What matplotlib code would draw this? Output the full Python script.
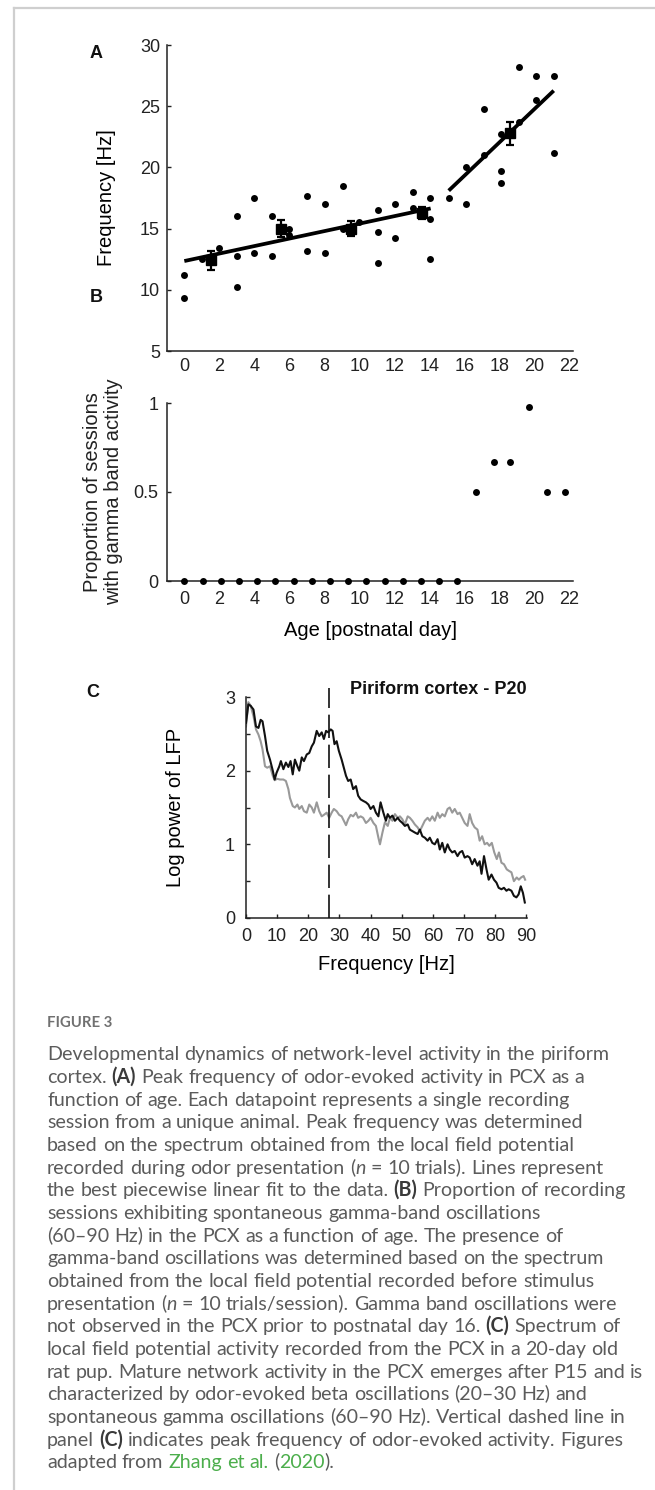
import re
import math
import matplotlib
matplotlib.use('Agg')
import matplotlib.pyplot as plt
from matplotlib.lines import Line2D
from matplotlib.font_manager import FontProperties

# ---------------- data ----------------
# Panel A: peak frequency vs age (individual sessions)
age_a = [0.0, 0.0, 1.0, 2.0, 3.0, 3.0, 3.0, 4.0, 4.0, 5.0, 5.0, 6.0, 6.0,
         7.0, 7.0, 8.05, 8.05, 9.05, 9.05, 10.0, 11.05, 11.05, 11.05, 12.05, 12.05,
         13.05, 13.05, 14.05, 14.05, 14.05, 15.1, 16.1, 16.1, 17.1, 17.1,
         18.1, 18.1, 18.1, 19.1, 19.1, 20.1, 20.1, 21.1, 21.1]
freq_a = [11.2, 9.3, 12.5, 13.4, 16.0, 12.75, 10.25, 17.5, 13.0, 16.0, 12.75, 15.0, 14.5,
          17.7, 13.2, 17.0, 13.0, 18.5, 15.0, 15.5, 16.5, 14.7, 12.2, 17.0, 14.2,
          18.0, 16.7, 17.5, 15.75, 12.5, 17.5, 20.0, 17.0, 24.75, 21.0,
          22.7, 19.7, 18.7, 28.2, 23.7, 27.5, 25.5, 27.5, 21.2]
# group means with error bars
mean_age = [1.52, 5.55, 9.54, 13.6, 18.6]
mean_freq = [12.4, 15.0, 15.0, 16.3, 22.8]
mean_err = [0.75, 0.7, 0.6, 0.5, 0.95]
# piecewise linear fit segments (start/end)
fit_age = [[0.0, 14.07], [15.1, 21.1]]
fit_freq = [[12.35, 16.65], [18.1, 26.27]]
xticks_ab = [0, 2, 4, 6, 8, 10, 12, 14, 16, 18, 20, 22]
yticks_a = [5, 10, 15, 20, 25, 30]

# Panel B: proportion of sessions with gamma activity
age_b = [0.0, 1.04, 2.08, 3.12, 4.16, 5.2, 6.24, 7.28, 8.32, 9.36, 10.4,
         11.44, 12.48, 13.52, 14.56, 15.6, 16.64, 17.68, 18.62, 19.66, 20.7, 21.76]
prop_b = [0, 0, 0, 0, 0, 0, 0, 0, 0, 0, 0, 0, 0, 0, 0, 0,
          0.5, 0.67, 0.67, 0.98, 0.5, 0.5]
yticks_b = [0, 0.5, 1]
yticklabels_b = ['0', '0.5', '1']

# Panel C: spectra (odor-evoked = black, spontaneous = gray)
freq_black = [0.0, 0.75, 1.5, 2.4, 3.2, 4.0, 4.7, 5.3, 6.1, 6.8, 7.7, 8.6, 9.2, 9.8,
              10.7, 11.2, 12.0, 12.8, 13.6, 14.3, 15.0, 15.7, 16.5, 17.1, 17.9, 18.6,
              19.5, 20.3, 21.1, 21.8, 22.7, 23.5, 24.3, 25.0, 25.7, 26.4, 27.2, 27.8,
              28.4, 29.1, 29.8, 30.7, 31.4, 32.1, 32.8, 33.6, 34.4, 35.3, 36.0, 36.8,
              37.6, 38.5, 39.3, 40.0, 40.9, 41.7, 42.5, 43.2, 44.1, 44.9, 45.5, 46.2,
              47.0, 47.8, 48.7, 49.4, 50.2, 51.0, 51.9, 52.6, 53.4, 54.2, 55.1, 55.8,
              56.6, 57.4, 58.3, 59.0, 59.8, 60.6, 61.5, 62.2, 63.0, 63.8, 64.7, 65.4,
              66.2, 67.0, 67.9, 68.6, 69.4, 70.2, 71.1, 71.8, 72.6, 73.4, 74.3, 75.0,
              75.6, 76.4, 77.2, 77.9, 78.8, 79.6, 80.4, 81.1, 82.0, 82.8, 83.6, 84.3,
              85.2, 86.0, 86.8, 87.5, 88.2, 88.9, 89.5]
pow_black = [2.65, 2.90, 2.88, 2.83, 2.60, 2.58, 2.69, 2.67, 2.47, 2.27, 2.15, 2.00, 1.88, 1.97,
             2.06, 2.13, 2.02, 2.11, 2.05, 2.13, 1.95, 2.15, 2.06, 2.00, 2.18, 2.13,
             2.22, 2.24, 2.33, 2.38, 2.54, 2.47, 2.52, 2.43, 2.54, 2.52, 2.56, 2.54,
             2.36, 2.40, 2.27, 2.15, 2.04, 1.93, 1.86, 1.88, 1.75, 1.79, 1.66, 1.61,
             1.59, 1.57, 1.54, 1.48, 1.52, 1.43, 1.38, 1.57, 1.43, 1.32, 1.41, 1.36,
             1.39, 1.32, 1.36, 1.32, 1.29, 1.25, 1.27, 1.20, 1.18, 1.16, 1.14, 1.20,
             1.11, 1.09, 1.05, 1.09, 1.02, 1.00, 1.07, 0.93, 1.02, 0.89, 1.00, 0.93,
             0.89, 0.91, 0.84, 0.89, 0.91, 0.82, 0.84, 0.82, 0.73, 0.80, 0.71, 0.77,
             0.60, 0.84, 0.66, 0.52, 0.59, 0.52, 0.48, 0.41, 0.39, 0.41, 0.37, 0.39,
             0.37, 0.30, 0.28, 0.32, 0.43, 0.34, 0.21]
freq_gray = [0.0, 0.75, 1.5, 2.4, 3.2, 4.0, 4.7, 5.3, 6.1, 6.8, 7.7, 8.6, 9.2, 10.0,
             10.9, 12.0, 12.8, 13.6, 14.1, 15.0, 15.7, 16.5, 17.1, 17.9, 18.6, 19.5,
             20.3, 21.1, 21.8, 22.7, 23.5, 24.3, 25.0, 25.9, 26.7, 27.5, 28.2, 29.1,
             29.9, 30.7, 31.4, 32.1, 32.8, 33.6, 34.4, 35.3, 36.0, 36.8, 37.6, 38.5,
             39.3, 40.0, 40.9, 41.7, 42.5, 43.0, 43.8, 44.6, 45.5, 46.2, 47.0, 47.8,
             48.7, 49.4, 50.2, 51.0, 51.9, 52.6, 53.4, 54.2, 55.1, 55.8, 56.6, 57.4,
             58.3, 59.0, 59.8, 60.6, 61.5, 62.2, 63.0, 63.8, 64.7, 65.4, 66.2, 67.0,
             67.9, 68.6, 69.4, 70.2, 71.1, 71.8, 72.6, 73.4, 74.3, 75.0, 75.8, 76.6,
             77.4, 78.1, 78.9, 79.7, 80.5, 81.2, 82.0, 82.8, 83.7, 84.4, 85.2, 86.0,
             86.9, 87.6, 88.3, 89.1, 89.6]
pow_gray = [2.60, 2.93, 2.88, 2.74, 2.56, 2.49, 2.40, 2.29, 2.06, 2.04, 2.06, 1.93, 1.87, 1.89,
            1.88, 1.88, 1.86, 1.75, 1.63, 1.52, 1.50, 1.54, 1.48, 1.52, 1.45, 1.43,
            1.54, 1.50, 1.43, 1.57, 1.45, 1.38, 1.40, 1.43, 1.36, 1.43, 1.48, 1.45,
            1.40, 1.38, 1.32, 1.26, 1.34, 1.40, 1.38, 1.43, 1.36, 1.38, 1.36, 1.29,
            1.32, 1.36, 1.29, 1.25, 1.09, 1.00, 1.16, 1.30, 1.25, 1.36, 1.32, 1.41,
            1.36, 1.38, 1.34, 1.27, 1.38, 1.36, 1.32, 1.27, 1.23, 1.18, 1.25, 1.32,
            1.36, 1.32, 1.38, 1.32, 1.43, 1.36, 1.41, 1.38, 1.48, 1.50, 1.43, 1.48,
            1.41, 1.43, 1.36, 1.29, 1.25, 1.41, 1.29, 1.23, 1.20, 1.05, 1.11, 1.00,
            1.02, 0.98, 1.02, 0.89, 0.80, 0.89, 0.75, 0.73, 0.66, 0.64, 0.62, 0.50,
            0.55, 0.52, 0.55, 0.57, 0.52]
peak_freq = 26.8
xticks_c = [0, 10, 20, 30, 40, 50, 60, 70, 80, 90]
yticks_c = [0, 0.5, 1, 1.5, 2, 2.5, 3]
yticklabels_c = ['0', '', '1', '', '2', '', '3']

caption_title = 'FIGURE 3'
caption_lines = [
    "Developmental dynamics of network-level activity in the piriform",
    "cortex. **(A)** Peak frequency of odor-evoked activity in PCX as a",
    "function of age. Each datapoint represents a single recording",
    "session from a unique animal. Peak frequency was determined",
    "based on the spectrum obtained from the local field potential",
    "recorded during odor presentation (*n* = 10 trials). Lines represent",
    "the best piecewise linear fit to the data. **(B)** Proportion of recording",
    "sessions exhibiting spontaneous gamma-band oscillations",
    "(60\u201390 Hz) in the PCX as a function of age. The presence of",
    "gamma-band oscillations was determined based on the spectrum",
    "obtained from the local field potential recorded before stimulus",
    "presentation (*n* = 10 trials/session). Gamma band oscillations were",
    "not observed in the PCX prior to postnatal day 16. **(C)** Spectrum of",
    "local field potential activity recorded from the PCX in a 20-day old",
    "rat pup. Mature network activity in the PCX emerges after P15 and is",
    "characterized by odor-evoked beta oscillations (20\u201330 Hz) and",
    "spontaneous gamma oscillations (60\u201390 Hz). Vertical dashed line in",
    "panel **(C)** indicates peak frequency of odor-evoked activity. Figures",
    "adapted from {Zhang et al.} ({2020}).",
]

# ---------------- figure ----------------
W, H = 655, 1490
plt.rcParams['font.family'] = ['Liberation Sans', 'DejaVu Sans']
fig = plt.figure(figsize=(W / 100, H / 100), dpi=100)

TICK_FS = 13
LAB_FS = 14.5


def ax_px(l, t, r, b):
    return fig.add_axes([l / W, 1 - b / H, (r - l) / W, (b - t) / H])


def style_axes(ax):
    for s in ['top', 'right']:
        ax.spines[s].set_visible(False)
    for s in ['left', 'bottom']:
        ax.spines[s].set_linewidth(1.1)
        ax.spines[s].set_color('#222222')
    ax.tick_params(labelsize=TICK_FS, colors='#222222', direction='in', width=1.0)


# Panel A
axA = ax_px(167, 45, 573, 351)
style_axes(axA)
axA.plot(age_a, freq_a, 'o', color='k', ms=5.0, mew=0, clip_on=False, zorder=2)
for xs, ys in zip(fit_age, fit_freq):
    axA.plot(xs, ys, color='k', lw=2.7, solid_capstyle='butt', zorder=3)
axA.errorbar(mean_age, mean_freq, yerr=mean_err, fmt='s', color='k', ms=7.5,
             capsize=3, elinewidth=1.6, capthick=1.6, zorder=4)
axA.set_xlim(-0.99, 22.2)
axA.set_ylim(5, 30)
axA.set_xticks(xticks_ab)
axA.set_yticks(yticks_a)
axA.tick_params(axis='x', length=0, pad=5)
axA.tick_params(axis='y', length=3, pad=5)
axA.set_ylabel('Frequency [Hz]', fontsize=LAB_FS)
axA.yaxis.set_label_coords(-(167 - 116) / (573 - 167), 0.5)

# Panel B
axB = ax_px(167, 403, 573, 581)
style_axes(axB)
axB.plot(age_b, prop_b, 'o', color='k', ms=5.0, mew=0, clip_on=False, zorder=3)
axB.set_xlim(-0.99, 22.2)
axB.set_ylim(0, 1)
axB.set_xticks(xticks_ab)
axB.set_yticks(yticks_b)
axB.set_yticklabels(yticklabels_b)
axB.tick_params(axis='x', length=0, pad=7.5)
axB.tick_params(axis='y', length=3, pad=6)
axB.set_xlabel('Age [postnatal day]', fontsize=LAB_FS, labelpad=9)
fig.text(93 / W, 1 - 492 / H, 'Proportion of sessions', rotation=90, ha='center',
         va='center', fontsize=LAB_FS, color='#222222')
fig.text(114 / W, 1 - 492 / H, 'with gamma band activity', rotation=90, ha='center',
         va='center', fontsize=LAB_FS, color='#222222')

# Panel C
axC = ax_px(246, 697, 527, 918)
style_axes(axC)
axC.plot(freq_gray, pow_gray, color='#999999', lw=1.5, zorder=2)
axC.plot(freq_black, pow_black, color='#111111', lw=1.5, zorder=3)
axC.plot([peak_freq, peak_freq], [0, 3.12], color='#111111', lw=1.2,
         dashes=(14, 4), clip_on=False, zorder=4)
axC.set_xlim(0, 90.2)
axC.set_ylim(0, 3)
axC.set_xticks(xticks_c)
axC.set_yticks(yticks_c)
axC.set_yticklabels(yticklabels_c)
axC.tick_params(axis='x', length=3, pad=7.5)
axC.tick_params(axis='y', length=3, pad=8)
axC.set_xlabel('Frequency [Hz]', fontsize=LAB_FS, labelpad=7)
axC.set_ylabel('Log power of LFP', fontsize=LAB_FS)
axC.yaxis.set_label_coords(-(246 - 185) / (527 - 246), 0.5)
axC.text(1.0, 1 + 7 / 221, 'Piriform cortex - P20', transform=axC.transAxes,
         ha='right', va='center', fontsize=13, fontweight='bold', color='#111111')

# panel letters
for letter, (px, py) in zip(['A', 'B', 'C'], [(96, 53), (96, 297), (93, 693)]):
    fig.text(px / W, 1 - py / H, letter, ha='center', va='center', fontsize=13,
             fontweight='bold', color='#111111')

# border lines
fig.add_artist(Line2D([13.5 / W, 13.5 / W], [0, 1 - 7.5 / H], transform=fig.transFigure,
                      color='#cfcfcf', lw=1.6))
fig.add_artist(Line2D([13.5 / W, 1], [1 - 7.5 / H, 1 - 7.5 / H], transform=fig.transFigure,
                      color='#cfcfcf', lw=1.6))

# ---------------- caption ----------------
renderer = fig.canvas.get_renderer()
CAP_FONT = ['Lato', 'DejaVu Sans']
GRAY = '#5b5b5b'
GREEN = '#4cae4c'

try:
    from matplotlib.backends.backend_agg import get_hinting_flag
    HFLAG = get_hinting_flag()
except Exception:
    HFLAG = None


def text_w(s, size, weight='normal', style='normal'):
    kw = dict(fontsize=size, fontweight=weight, fontstyle=style, family=CAP_FONT)
    t1 = fig.text(0, 0, '|' + s + '|', **kw)
    t2 = fig.text(0, 0, '||', **kw)
    w = t1.get_window_extent(renderer).width - t2.get_window_extent(renderer).width
    t1.remove()
    t2.remove()
    return w


def snapped_y(piece, size, weight, style, row):
    """display y for a baseline-aligned word so every word lands on the same pixel row"""
    try:
        prop = FontProperties(family=CAP_FONT, size=size, weight=weight, style=style)
        font = renderer._prepare_font(prop)
        if HFLAG is not None:
            font.set_text(piece, 0, flags=HFLAG)
        else:
            font.set_text(piece, 0)
        _, hh = font.get_width_height()
        D = font.get_descent() / 64.0
        A = hh / 64.0 - D
        y_agg = row + (hh // 64) - math.floor(A) - D
        return H - y_agg
    except Exception:
        return H - row


def parse(line):
    segs = []
    for tok in re.split(r'(\*\*.+?\*\*|\*.+?\*|\{.+?\})', line):
        if not tok:
            continue
        if tok.startswith('**'):
            segs.append((tok[2:-2], 'bold', 'normal', '#3a3a3a'))
        elif tok.startswith('*'):
            segs.append((tok[1:-1], 'normal', 'italic', GRAY))
        elif tok.startswith('{'):
            segs.append((tok[1:-1], 'normal', 'normal', GREEN))
        else:
            segs.append((tok, 'normal', 'normal', GRAY))
    return segs


# fit caption size to the measured width of the first line
base = 12.0
w0 = text_w(caption_lines[0], base)
cap_fs = base * (606 - 47) / w0

x0 = 47
y_first = 1055
dy = (1463 - 1055) / (len(caption_lines) - 1)

fw0 = text_w(caption_title, 11, weight='bold')
title_fs = 11 * (112 - 47) / fw0
fig.text(x0 / W, 1 - (1022 + 5) / H, caption_title, fontsize=title_fs,
         fontweight='bold', color='#707070', family=CAP_FONT, ha='left', va='baseline')

space_w = text_w(' ', cap_fs)
for i, line in enumerate(caption_lines):
    row = round(y_first + i * dy + 5.5)
    x = x0
    for text, weight, style, color in parse(line):
        for piece in re.split(r'( )', text):
            if piece == '':
                continue
            if piece == ' ':
                x += space_w
                continue
            yd = snapped_y(piece, cap_fs, weight, style, row)
            fig.text(x / W, yd / H, piece, fontsize=cap_fs, fontweight=weight,
                     fontstyle=style, color=color, family=CAP_FONT,
                     ha='left', va='baseline')
            x += text_w(piece, cap_fs, weight, style)

fig.savefig('out.png', dpi=100)
